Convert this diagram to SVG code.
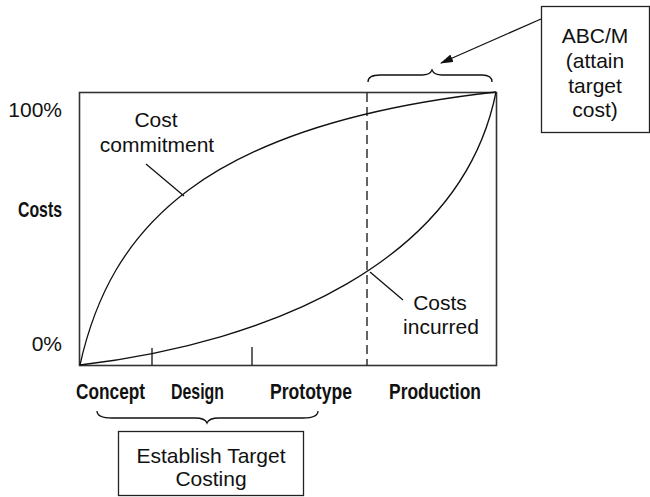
<svg xmlns="http://www.w3.org/2000/svg" width="650" height="497" viewBox="0 0 650 497">
<style>
.t{font-family:"Liberation Sans",Arial,sans-serif;font-size:21px;fill:#111}
.b{font-family:"Liberation Sans",Arial,sans-serif;font-size:22px;font-weight:bold;fill:#111}
.ln{fill:none;stroke:#111;stroke-width:1.3}
.box{fill:#fff;stroke:#222;stroke-width:1.3}
</style>
<defs>
<marker id="ah" markerWidth="13" markerHeight="8" refX="12" refY="4" orient="auto" markerUnits="userSpaceOnUse">
<path d="M0,0 L13,4 L0,8 Z" fill="#111"/>
</marker>
</defs>
<g id="chart">
<rect x="79.5" y="92.5" width="417" height="273" fill="none" stroke="#333" stroke-width="1.6"/>
<line x1="152" y1="348" x2="152" y2="365" class="ln"/>
<line x1="252" y1="347" x2="252" y2="365" class="ln"/>
<line x1="367" y1="93" x2="367" y2="365" class="ln" stroke-dasharray="9,5"/>
</g>
<g id="curves">
<path id="commitment" class="ln" d="M80,365 C110,230 200,125 496,92"/>
<path id="incurred" class="ln" d="M80,365 C272,342 462,262 496,92"/>
</g>
<g id="connectors">
<line x1="146" y1="164" x2="184" y2="196" class="ln"/>
<line x1="370" y1="272" x2="403" y2="300" class="ln"/>
<line x1="541" y1="19" x2="441" y2="63" class="ln" marker-end="url(#ah)"/>
<path class="ln" stroke-width="2.4" d="M368,82 Q368,75 380,75 L422,75 Q430,75 432,70 Q434,75 442,75 L482,75 Q492,75 492,82"/>
<path class="ln" stroke-width="2.4" d="M97,411 Q97,418 112,418 L195,418 Q205,418 207,423 Q209,418 219,418 L303,418 Q318,418 318,411"/>
</g>
<g id="axis-labels">
<text class="t" x="62" y="117" text-anchor="end">100%</text>
<text class="b" x="62" y="217" text-anchor="end" textLength="44" lengthAdjust="spacingAndGlyphs">Costs</text>
<text class="t" x="62" y="351" text-anchor="end">0%</text>
<text class="b" x="76" y="399" textLength="69" lengthAdjust="spacingAndGlyphs">Concept</text>
<text class="b" x="171" y="399" textLength="53" lengthAdjust="spacingAndGlyphs">Design</text>
<text class="b" x="270" y="399" textLength="82" lengthAdjust="spacingAndGlyphs">Prototype</text>
<text class="b" x="389" y="399" textLength="92" lengthAdjust="spacingAndGlyphs">Production</text>
</g>
<g id="label-commitment">
<text class="t" x="156" y="127" text-anchor="middle">Cost</text>
<text class="t" x="157" y="152" text-anchor="middle">commitment</text>
</g>
<g id="label-incurred">
<text class="t" x="440" y="310" text-anchor="middle">Costs</text>
<text class="t" x="441" y="334" text-anchor="middle">incurred</text>
</g>
<g id="abcm">
<rect class="box" x="541.5" y="6.5" width="108" height="126"/>
<text class="t" x="595" y="43" text-anchor="middle">ABC/M</text>
<text class="t" x="595" y="68" text-anchor="middle">(attain</text>
<text class="t" x="595" y="93" text-anchor="middle">target</text>
<text class="t" x="595" y="117" text-anchor="middle">cost)</text>
</g>
<g id="establish">
<rect class="box" x="118.5" y="431.5" width="185" height="64"/>
<text class="t" x="211" y="463" text-anchor="middle">Establish Target</text>
<text class="t" x="211" y="486" text-anchor="middle">Costing</text>
</g>
</svg>
